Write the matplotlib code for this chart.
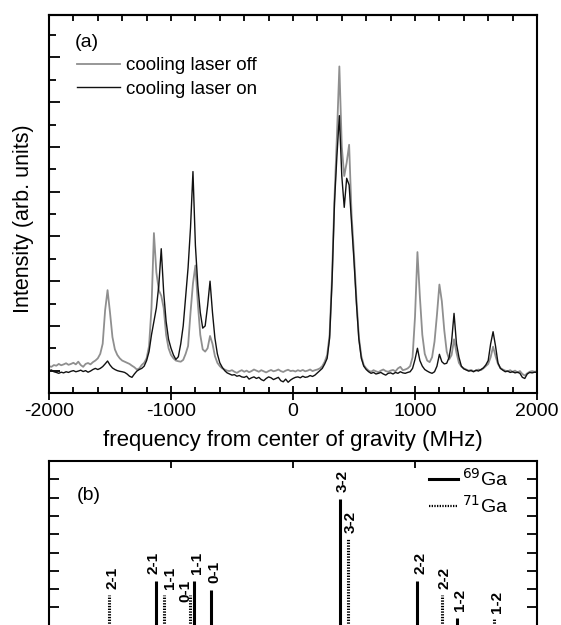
import numpy as np
import matplotlib
matplotlib.use("Agg")
import matplotlib.pyplot as plt
from matplotlib.lines import Line2D
from matplotlib.ticker import MultipleLocator, FixedLocator, NullFormatter

plt.rcParams['font.family'] = ['Liberation Sans', 'DejaVu Sans']
plt.rcParams['axes.unicode_minus'] = False

# frequency grid of the measured spectra (MHz), one sample every 20 MHz
freq = np.arange(-2000, 2001, 20)

# cooling laser off (grey trace), arb. units
laser_off = [
    1.20, 1.17, 1.25, 1.22, 1.30, 1.24, 1.28, 1.33, 1.26, 1.30,
    1.35, 1.28, 1.40, 1.25, 1.17, 1.30, 1.34, 1.28, 1.38, 1.45,
    1.55, 1.75, 2.20, 3.70, 4.60, 3.60, 2.50, 1.95, 1.70, 1.55,
    1.45, 1.40, 1.35, 1.30, 1.22, 1.15, 1.05, 1.10, 1.25, 1.35,
    1.55, 2.10, 3.80, 7.15, 5.40, 4.60, 4.35, 3.80, 2.60, 2.00,
    1.70, 1.55, 1.45, 1.42, 1.40, 1.48, 1.75, 2.10, 3.60, 4.90,
    5.70, 4.00, 2.60, 1.95, 1.85, 2.00, 2.55, 2.20, 1.65, 1.35,
    1.20, 1.10, 1.05, 1.00, 0.98, 1.02, 0.95, 0.90, 0.97, 1.02,
    0.95, 1.00, 0.93, 0.98, 1.05, 1.00, 0.95, 1.02, 0.97, 0.92,
    0.98, 1.03, 0.97, 1.00, 1.05, 0.98, 0.94, 1.00, 1.04, 0.98,
    1.00, 0.96, 1.02, 0.98, 1.03, 0.97, 1.00, 1.05, 0.98, 1.02,
    1.05, 1.10, 1.20, 1.40, 1.70, 2.60, 5.20, 8.70, 11.50, 14.60,
    11.00, 9.70, 10.30, 11.10, 8.00, 6.20, 4.20, 2.50, 1.65, 1.25,
    1.10, 1.00, 0.95, 1.02, 0.97, 0.93, 1.00, 1.05, 0.98, 0.95,
    1.00, 1.03, 0.97, 1.10, 1.17, 1.02, 1.05, 1.10, 1.20, 1.60,
    3.40, 6.30, 4.30, 2.60, 1.75, 1.45, 1.38, 1.60, 2.30, 3.50,
    4.85, 4.10, 2.80, 1.85, 1.50, 1.70, 2.40, 1.80, 1.35, 1.18,
    1.10, 1.05, 1.00, 1.03, 0.97, 1.00, 1.05, 1.02, 1.10, 1.20,
    1.30, 1.60, 2.07, 1.65, 1.30, 1.12, 1.05, 1.00, 0.97, 1.02,
    0.95, 1.00, 0.92, 0.98, 0.85, 0.78, 0.88, 0.95, 0.98, 0.95,
    0.97,
]

# cooling laser on (black trace)
laser_on = [
    1.00, 1.03, 0.95, 0.92, 0.88, 0.93, 0.90, 0.95, 0.92, 0.97,
    1.00, 0.95, 0.98, 1.02, 0.96, 1.00, 0.93, 0.98, 1.05, 1.10,
    1.05, 1.10, 1.18, 1.30, 1.43, 1.25, 1.12, 1.05, 1.00, 0.97,
    0.95, 0.92, 0.85, 0.75, 0.70, 0.85, 0.98, 1.05, 1.10, 1.20,
    1.45, 1.85, 2.60, 3.20, 3.80, 4.80, 6.45, 4.50, 3.20, 2.40,
    2.00, 1.70, 1.50, 1.62, 2.20, 3.00, 4.30, 5.60, 7.40, 9.90,
    6.60, 4.80, 3.60, 2.90, 3.00, 3.90, 5.00, 3.60, 2.45, 1.75,
    1.35, 1.15, 1.00, 0.90, 0.85, 0.80, 0.82, 0.75, 0.78, 0.72,
    0.70, 0.75, 0.62, 0.68, 0.72, 0.65, 0.70, 0.60, 0.55, 0.65,
    0.72, 0.68, 0.60, 0.65, 0.70, 0.55, 0.50, 0.62, 0.48, 0.58,
    0.65, 0.70, 0.72, 0.68, 0.75, 0.70, 0.72, 0.78, 0.74, 0.80,
    0.90, 1.00, 1.10, 1.30, 1.55, 2.45, 5.00, 8.50, 10.60, 12.40,
    9.70, 8.30, 9.60, 9.30, 7.60, 5.90, 4.00, 2.40, 1.55, 1.20,
    1.05, 0.95, 0.88, 0.92, 0.85, 0.88, 0.92, 0.85, 0.80, 0.88,
    0.90, 0.85, 0.92, 0.88, 0.95, 0.90, 0.88, 0.92, 0.95, 1.10,
    1.50, 2.00, 1.45, 1.20, 1.05, 0.98, 0.92, 0.88, 0.95, 1.20,
    1.73, 1.40, 1.30, 1.33, 1.60, 2.30, 3.56, 2.20, 1.60, 1.20,
    1.08, 1.03, 0.98, 1.00, 0.95, 1.02, 0.98, 1.05, 1.12, 1.25,
    1.45, 2.20, 2.74, 2.10, 1.35, 1.10, 1.02, 0.95, 0.98, 0.92,
    0.95, 0.90, 0.93, 0.88, 0.70, 0.65, 0.85, 0.92, 0.90, 0.93,
    0.92,
]

# panel (b): hyperfine line positions (MHz) and relative strengths
ga69_pos = [-1123, -811, -670, 385, 1019, 1342]
ga69_height = [13.44, 13.44, 12.95, 17.9, 13.44, 11.44]
ga69_labels = ['2-1', '1-1', '0-1', '3-2', '2-2', '1-2']

ga71_pos = [-1506, -1057, -844, 453, 1219, 1648]
ga71_height = [12.7, 12.68, 12.68, 15.74, 12.68, 11.4]
ga71_labels = ['2-1', '1-1', '0-1', '3-2', '2-2', '1-2']

x_ticks = [-2000, -1000, 0, 1000, 2000]

W, H = 561, 625
fig = plt.figure(figsize=(W / 100, H / 100), dpi=100)

# ---------------- panel (a) ----------------
ax = fig.add_axes([49 / W, (H - 393) / H, 488 / W, 378 / H])
ax.plot(freq, laser_off, color='#8f8f8f', lw=1.3, label='cooling laser off')
ax.plot(freq, laser_on, color='#111111', lw=1.0, label='cooling laser on')
ax.set_xlim(-2000, 2000)
ax.set_ylim(0, 16.9)

ax.set_xticks(x_ticks)
ax.xaxis.set_minor_locator(MultipleLocator(200))
ax.tick_params(axis='x', which='major', direction='inout', length=10, width=1.3,
               labelsize=14, pad=2, top=False)
ax.tick_params(axis='x', which='minor', direction='in', length=4, width=1.3, top=False)
ax.yaxis.set_major_locator(FixedLocator([1, 3, 5, 7, 9, 11, 13, 15]))
ax.yaxis.set_minor_locator(FixedLocator([2, 4, 6, 8, 10, 12, 14, 16]))
ax.yaxis.set_major_formatter(NullFormatter())
ax.tick_params(axis='y', which='major', direction='in', length=8, width=1.3, right=False)
ax.tick_params(axis='y', which='minor', direction='in', length=5, width=1.3, right=False)

top = ax.secondary_xaxis('top')
top.set_xticks(x_ticks)
top.xaxis.set_minor_locator(MultipleLocator(200))
top.tick_params(which='both', direction='in', length=4, width=1.3, labeltop=False)
top.xaxis.set_major_formatter(NullFormatter())

for s in ax.spines.values():
    s.set_linewidth(1.5)
top.spines['top'].set_linewidth(1.5)

ax.set_xlabel('frequency from center of gravity (MHz)', fontsize=16)
ax.xaxis.set_label_coords(0.5, -0.098)
ax.set_ylabel('Intensity (arb. units)', fontsize=15.5)
ax.yaxis.set_label_coords(-0.031, 0.46)

ax.text(0.053, 0.926, '(a)', transform=ax.transAxes, fontsize=14, va='center')
ax.legend(loc='upper left', bbox_to_anchor=(0.058, 0.888), frameon=False,
          fontsize=13.5, handlelength=2.3, handletextpad=0.3, labelspacing=0.33,
          borderpad=0, borderaxespad=0)

# ---------------- panel (b) ----------------
axb = fig.add_axes([49 / W, (H - 461) / H - 366 / H, 488 / W, 366 / H])
axb.set_xlim(-2000, 2000)
axb.set_ylim(0, 20)
axb.vlines(ga69_pos, 0, ga69_height, colors='black', lw=2.2, linestyles='solid')
axb.vlines(ga71_pos, 0, ga71_height, colors='black', lw=2.2,
           linestyles=[(0, (0.45, 0.45))])

# label nudges (points) where neighbouring labels would collide
nudge69 = {'2-1': (-2, 5)}
nudge71 = {'0-1': (-3, -5), '1-1': (4, 4)}
label_kw = dict(rotation=90, fontsize=11, fontweight='bold', ha='center', va='bottom',
                textcoords='offset points')
for x, h, t in zip(ga69_pos, ga69_height, ga69_labels):
    axb.annotate(t, (x, h), xytext=nudge69.get(t, (2, 5)), **label_kw)
for x, h, t in zip(ga71_pos, ga71_height, ga71_labels):
    axb.annotate(t, (x, h), xytext=nudge71.get(t, (2, 4)), **label_kw)

axb.set_xticks(x_ticks)
axb.tick_params(axis='x', which='major', direction='in', length=5, width=1.3,
                top=True, bottom=False, labelbottom=False)
axb.yaxis.set_major_locator(MultipleLocator(1))
axb.yaxis.set_major_formatter(NullFormatter())
axb.tick_params(axis='y', direction='in', length=7, width=1.3, left=True, right=True)
for s in axb.spines.values():
    s.set_linewidth(1.5)

axb.text(0.057, 18.14, '(b)', transform=axb.get_yaxis_transform(), fontsize=14,
         va='center')

handles = [Line2D([], [], color='black', lw=2.2),
           Line2D([], [], color='black', lw=1.6, linestyle=(0, (0.6, 0.6)))]
axb.legend(handles, [r'$^{69}$Ga', r'$^{71}$Ga'], loc='upper right',
           bbox_to_anchor=(0.942, 0.98), frameon=False, fontsize=14,
           handlelength=1.45, handletextpad=0.25, labelspacing=0.25,
           borderpad=0, borderaxespad=0)

fig.savefig('out.png', dpi=100)
